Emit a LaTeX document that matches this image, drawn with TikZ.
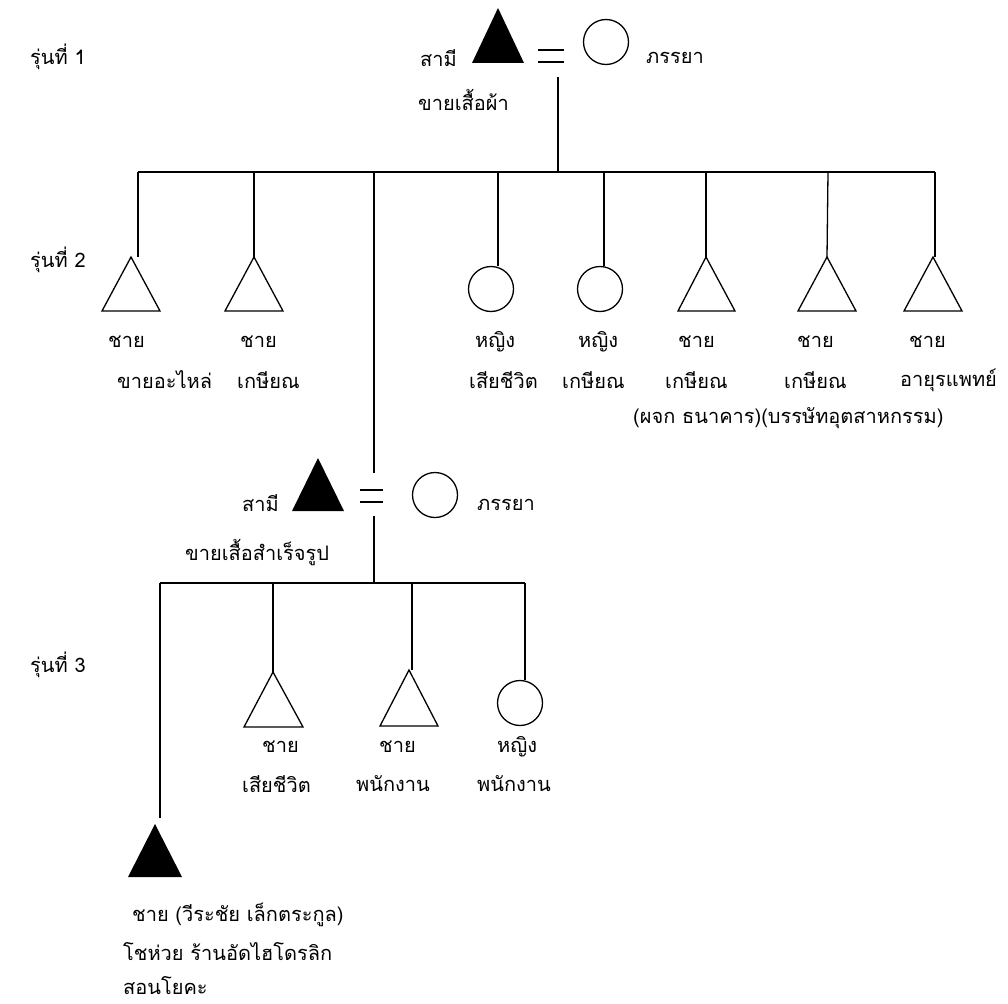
\documentclass[tikz,border=0pt]{standalone}
\usepackage{fontspec}
\newfontfamily\thai[Script=Thai]{Loma}
\begin{document}
\begin{tikzpicture}[x=1pt,y=-1pt,
  ln/.style={line width=1.3pt},
  lbl/.style={font=\thai\fontsize{20}{24}\selectfont, inner sep=0pt, anchor=west},
  fem/.style={circle, draw, line width=1.3pt, minimum size=45pt, inner sep=0pt},
  eqs/.style={line width=1.6pt}]
\useasboundingbox (0,0) rectangle (1008,1003);

% generation labels
\node[lbl] (g1) at (30,57) {รุ่นที่ 1};
\node[lbl] (g2) at (30,260) {รุ่นที่ 2};
\node[lbl] (g3) at (30,665) {รุ่นที่ 3};

% ---- generation 1 couple
\coordinate (f1) at (498,8);
\fill (f1) -- (472,63) -- (524,63) -- cycle;
\node[lbl] (f1a) at (420,58) {สามี};
\node[lbl] (f1b) at (418,100) {ขายเสื้อผ้า};
\draw[eqs] (538,50) -- (564,50) (538,62) -- (564,62);
\node[fem] (m1) at (606,42) {};
\node[lbl] (m1a) at (646,58) {ภรรยา};
\coordinate (c1top) at (558,77);
\coordinate (c1bot) at (558,172);
\draw[ln] (c1top) -- (c1bot);
\coordinate (h1L) at (138,172);
\coordinate (h1R) at (935,172);
\draw[ln] (h1L) -- (h1R);

% ---- generation 2 children
\coordinate (t1) at (131,257);
\draw[ln] (t1) -- (102,311) -- (160,311) -- cycle;
\draw[ln] (h1L) -- (138,257);
\node[lbl] (t1a) at (108,342) {ชาย};
\node[lbl] (t1b) at (117,380) {ขายอะไหล่};

\coordinate (t2) at (254,257);
\draw[ln] (t2) -- (225,311) -- (283,311) -- cycle;
\draw[ln] (254,172) -- (t2);
\node[lbl] (t2a) at (240,342) {ชาย};
\node[lbl] (t2b) at (237,380) {เกษียณ};

\node[fem] (c1) at (491,289) {};
\draw[ln] (498,172) -- (c1.north -| 498,0);
\node[lbl] (c1a) at (475,342) {หญิง};
\node[lbl] (c1b) at (469,380) {เสียชีวิต};

\node[fem] (c2) at (600,289) {};
\draw[ln] (604,172) -- (c2.north -| 604,0);
\node[lbl] (c2a) at (578,342) {หญิง};
\node[lbl] (c2b) at (562,380) {เกษียณ};

\coordinate (t3) at (706,257);
\draw[ln] (t3) -- (678,311) -- (735,311) -- cycle;
\draw[ln] (706,172) -- (t3);
\node[lbl] (t3a) at (678,342) {ชาย};
\node[lbl] (t3b) at (665,380) {เกษียณ};

\coordinate (t4) at (827,257);
\draw[ln] (t4) -- (798,311) -- (856,311) -- cycle;
\draw[ln] (828,172) -- (t4);
\node[lbl] (t4a) at (797,342) {ชาย};
\node[lbl] (t4b) at (784,380) {เกษียณ};

\coordinate (t5) at (933,257);
\draw[ln] (t5) -- (904,311) -- (962,311) -- cycle;
\draw[ln] (h1R) -- (935,257);
\node[lbl] (t5a) at (909,342) {ชาย};
\node[lbl] (t5b) at (900,380) {อายุรแพทย์};

\node[lbl] (t34) at (633,418) {(ผจก ธนาคาร)(บรรษัทอุตสาหกรรม)};

% ---- generation 2 couple
\coordinate (f2) at (318,458);
\fill (f2) -- (292,511) -- (344,511) -- cycle;
\node[lbl] (f2a) at (242,503) {สามี};
\node[lbl] (f2b) at (185,553) {ขายเสื้อสำเร็จรูป};
\draw[eqs] (360,490) -- (383,490) (360,502) -- (383,502);
\node[fem] (m2) at (435,495) {};
\node[lbl] (m2a) at (477,505) {ภรรยา};
\coordinate (d2top) at (374,172);
\coordinate (d2mid) at (374,473);
\draw[ln] (d2top) -- (d2mid);
\coordinate (c2top) at (374,516);
\coordinate (c2bot) at (374,583);
\draw[ln] (c2top) -- (c2bot);
\coordinate (h2L) at (160,583);
\coordinate (h2R) at (525,583);
\draw[ln] (h2L) -- (h2R);

% ---- generation 3
\coordinate (s1) at (155,824);
\fill (s1) -- (128,877) -- (182,877) -- cycle;
\draw[ln] (h2L) -- (160,818);
\node[lbl] (s1a) at (132,915) {ชาย (วีระชัย เล็กตระกูล)};
\node[lbl] (s1b) at (123,952) {โชห่วย ร้านอัดไฮโดรลิก};
\node[lbl] (s1c) at (123,986) {สอนโยคะ};

\coordinate (s2) at (273,672);
\draw[ln] (s2) -- (244,727) -- (303,727) -- cycle;
\draw[ln] (273,583) -- (s2);
\node[lbl] (s2a) at (262,747) {ชาย};
\node[lbl] (s2b) at (242,784) {เสียชีวิต};

\coordinate (s3) at (409,670);
\draw[ln] (s3) -- (380,726) -- (438,726) -- cycle;
\draw[ln] (412,583) -- (412,670);
\node[lbl] (s3a) at (379,747) {ชาย};
\node[lbl] (s3b) at (356,784) {พนักงาน};

\node[fem] (s4) at (520,703) {};
\draw[ln] (h2R) -- (s4.north -| 525,0);
\node[lbl] (s4a) at (497,747) {หญิง};
\node[lbl] (s4b) at (477,784) {พนักงาน};
\end{tikzpicture}
\end{document}
